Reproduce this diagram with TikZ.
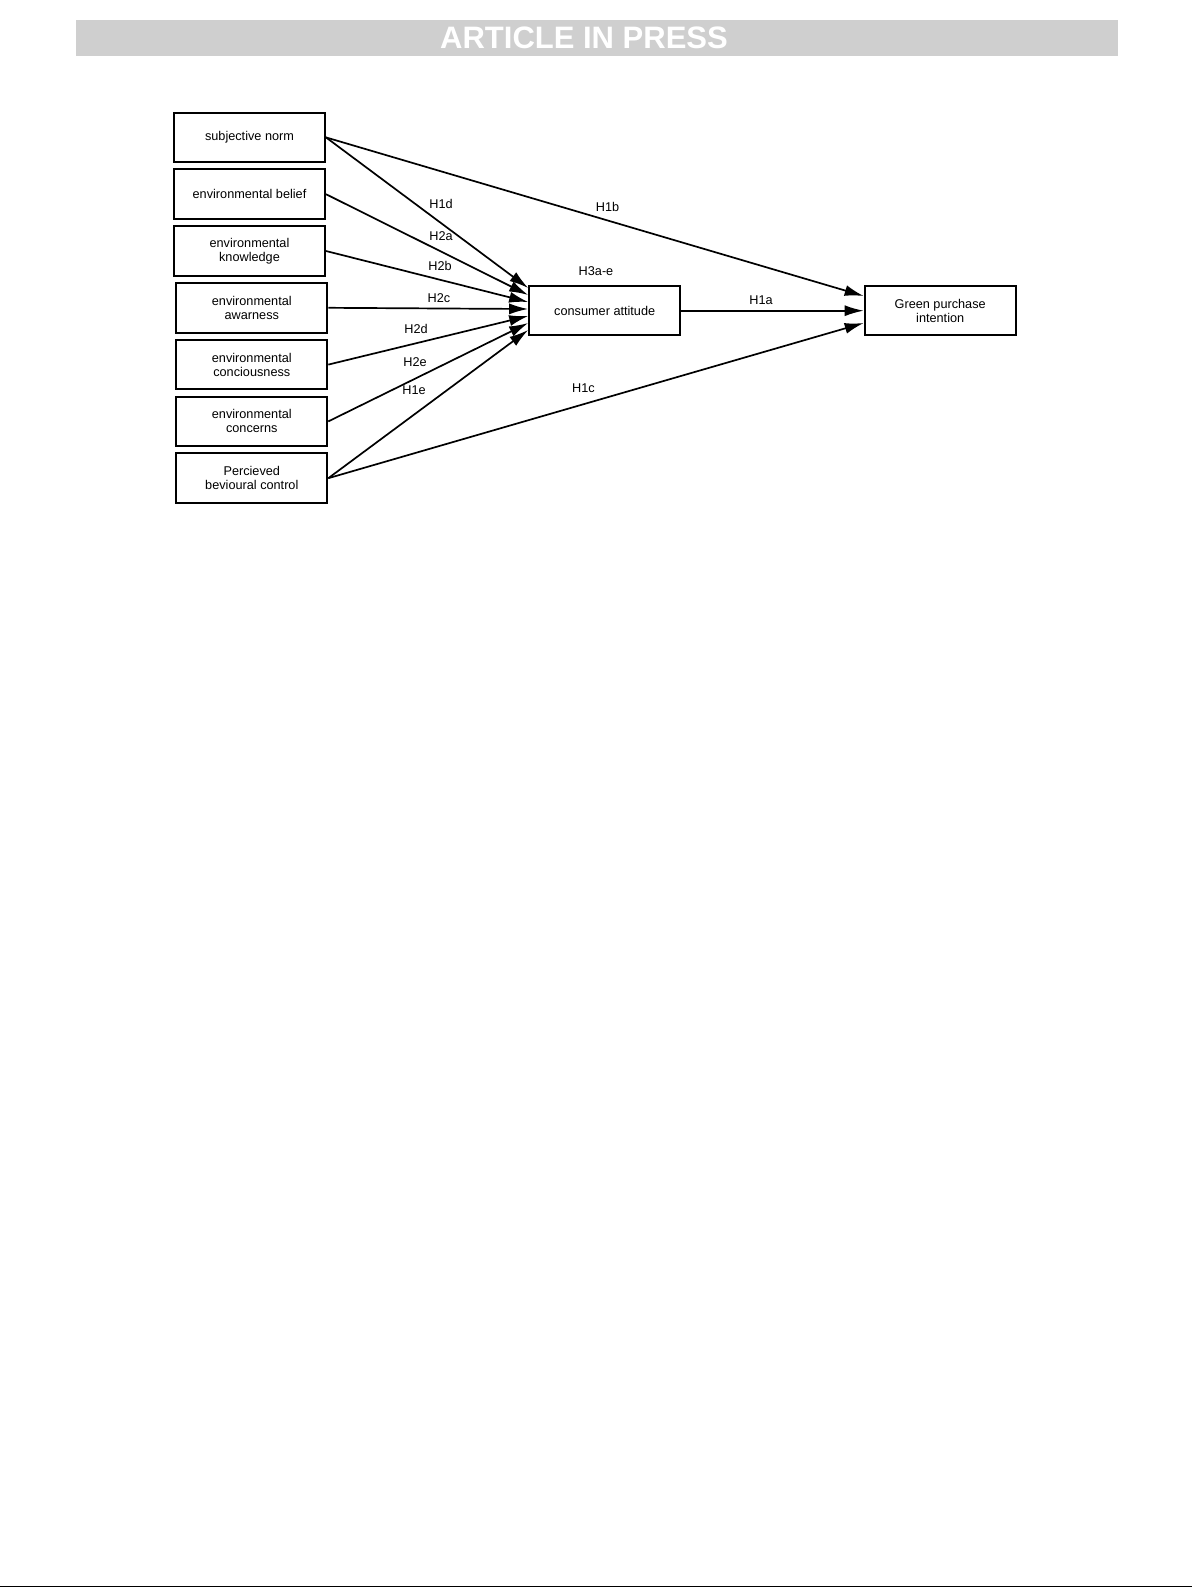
\documentclass[tikz,border=0pt]{standalone}
\usepackage{fontspec}
\setmainfont{Liberation Sans}
\usepackage{tikz}
\usetikzlibrary{positioning,arrows.meta}

\begin{document}
\begin{tikzpicture}[x=1pt,y=-1pt]
\tikzstyle{factor}=[rectangle, draw=black, line width=2pt, minimum width=151pt, minimum height=49.5pt, align=center, font=\fontsize{12.7}{14}\selectfont, node distance=5.3pt]
\tikzstyle{connect}=[-{Latex[length=19pt,width=11pt]}, line width=1.7pt]
\tikzstyle{hyp}=[font=\fontsize{12.7}{14}\selectfont, inner sep=0pt]
\useasboundingbox (0,0) rectangle (1192,1588);
% banner
\fill[black!19] (76,20) rectangle (1118,56);
\node[text=white, font=\fontsize{31}{31}\bfseries\selectfont, inner sep=0pt] (Banner) at (584,38) {ARTICLE IN PRESS};
% left column
\node[factor] (SubjNorm) at (249.5,137.4) {subjective norm};
\node[factor] (EnvBelief) [below=of SubjNorm] {environmental belief};
\node[factor] (EnvKnow) [below=of EnvBelief] {environmental\\knowledge};
\node[factor] (EnvAware) [below=of EnvKnow, xshift=2.3pt] {environmental\\awarness};
\node[factor] (EnvConsc) [below=of EnvAware] {environmental\\conciousness};
\node[factor] (EnvConcern) [below=of EnvConsc] {environmental\\concerns};
\node[factor] (PercControl) [below=of EnvConcern] {Percieved\\bevioural control};
% middle and right
\node[factor] (Attitude) at (604.7,310.7) {consumer attitude};
\node[factor] (GreenIntent) [right=182.5pt of Attitude] {Green purchase\\intention};
  \path
  	(SubjNorm.east) edge [connect] ([yshift=22.7pt]Attitude.west)
  	(EnvBelief.east) edge [connect] ([yshift=15.7pt]Attitude.west)
  	(EnvKnow.east) edge [connect] ([yshift=8.7pt]Attitude.west)
  	(EnvAware.east) edge [connect] ([yshift=1.7pt]Attitude.west)
  	(EnvConsc.east) edge [connect] ([yshift=-5.3pt]Attitude.west)
  	(EnvConcern.east) edge [connect] ([yshift=-12.3pt]Attitude.west)
  	(PercControl.east) edge [connect] ([yshift=-19.3pt]Attitude.west)
  	(SubjNorm.east) edge [connect] ([yshift=14.7pt]GreenIntent.west)
  	(Attitude) edge [connect] (GreenIntent)
  	(PercControl.east) edge [connect] ([yshift=-12.3pt]GreenIntent.west);
% hypothesis labels
\node[hyp] (H1d) at (441,204) {H1d};
\node[hyp] (H2a) at (441,236) {H2a};
\node[hyp] (H2b) at (440,266) {H2b};
\node[hyp] (H2c) at (439,298) {H2c};
\node[hyp] (H2d) at (416,329) {H2d};
\node[hyp] (H2e) at (415,362) {H2e};
\node[hyp] (H1e) at (414,390) {H1e};
\node[hyp] (H1b) at (607.5,207) {H1b};
\node[hyp] (H3ae) at (596,271.5) {H3a-e};
\node[hyp] (H1a) at (761,300) {H1a};
\node[hyp] (H1c) at (583.5,388) {H1c};
% rule at the foot of the page
\draw[line width=1.5pt] (0,1586.5) -- (1192,1586.5);
\end{tikzpicture}
\end{document}
